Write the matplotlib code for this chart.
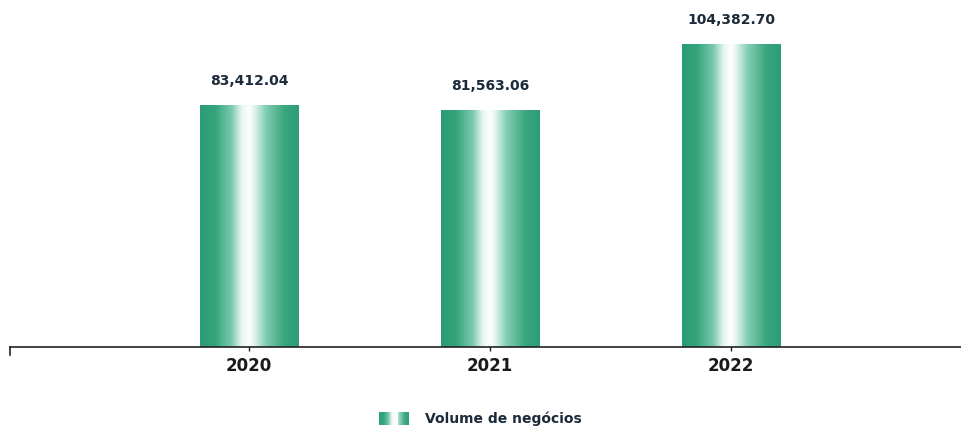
import numpy as np
import matplotlib
matplotlib.use("Agg")
import matplotlib.pyplot as plt
from matplotlib.colors import LinearSegmentedColormap
from matplotlib.legend_handler import HandlerBase
from matplotlib.patches import Rectangle

years = ["2020", "2021", "2022"]
values = [83412.04, 81563.06, 104382.70]
value_labels = ["83,412.04", "81,563.06", "104,382.70"]
legend_label = "Volume de negócios"

cmap = LinearSegmentedColormap.from_list("cyl", [
    (0.0, "#2a9b72"), (0.15, "#33a47b"), (0.32, "#7ccaae"), (0.42, "#e6f6f0"),
    (0.5, "#ffffff"), (0.56, "#d9f1e8"), (0.66, "#86cfb4"), (0.85, "#3aa67f"), (1.0, "#2d9d75")])

fig = plt.figure(figsize=(9.61, 4.29), dpi=100)
ax = fig.add_axes([10/961, (429-347)/429, 951/961, 347/429])

x = np.arange(len(years))
bars = ax.bar(x, values, width=0.41, color="none", edgecolor="none")
grad = np.linspace(0, 1, 256).reshape(1, -1)
for b in bars:
    x0, y0 = b.get_x(), b.get_y()
    w, h = b.get_width(), b.get_height()
    im = ax.imshow(grad, cmap=cmap, extent=[x0, x0 + w, y0, y0 + h],
                   aspect="auto", zorder=2, interpolation="bicubic")
    im.set_clip_path(b)

for xi, v, lab in zip(x, values, value_labels):
    ax.annotate(lab, (xi, v), xytext=(0, 12), textcoords="offset points",
                ha="center", va="bottom", fontsize=10, fontweight="bold",
                color="#1c2b3a", family="DejaVu Sans")

ax.set_xlim(-0.992, 2.954)
ax.set_ylim(0, 119500)
ax.set_xticks(x)
ax.set_xticklabels(years, fontsize=12, fontweight="bold", color="#1a1a1a")
ax.tick_params(axis="x", direction="inout", length=6, width=1, color="#222222", pad=4)
ax.set_yticks([])
for s in ["top", "right", "left"]:
    ax.spines[s].set_visible(False)
ax.spines["bottom"].set_color("#222222")
ax.spines["bottom"].set_linewidth(1.2)
ax.plot([-0.992 + 0.002, -0.992 + 0.002], [0, -2800], color="#222222", lw=1.2, clip_on=False)


class GradHandler(HandlerBase):
    def create_artists(self, legend, orig_handle, xdescent, ydescent, width, height, fontsize, trans):
        arts = []
        n = 14
        specs = [(0.0, 0.52, 0.05, 0.48), (0.66, 0.34, 0.62, 0.95)]
        for start, frac, c0, c1 in specs:
            bw = width * frac
            sx = start * width
            for i in range(n):
                t = i / (n - 1)
                c = cmap(c0 + (c1 - c0) * t)
                r = Rectangle((sx - xdescent + bw * i / n, -ydescent), bw / n + 0.3, height,
                              facecolor=c, edgecolor="none", transform=trans)
                arts.append(r)
        return arts


proxy = Rectangle((0, 0), 1, 1)
fig.legend([proxy], [legend_label], loc="lower center", bbox_to_anchor=(0.5, -0.022),
           frameon=False, handler_map={Rectangle: GradHandler()},
           handlelength=2.1, handleheight=1.1, handletextpad=1.2,
           prop={"size": 10, "weight": "bold"}, labelcolor="#1c2b3a")

fig.savefig("out.png", dpi=100)
